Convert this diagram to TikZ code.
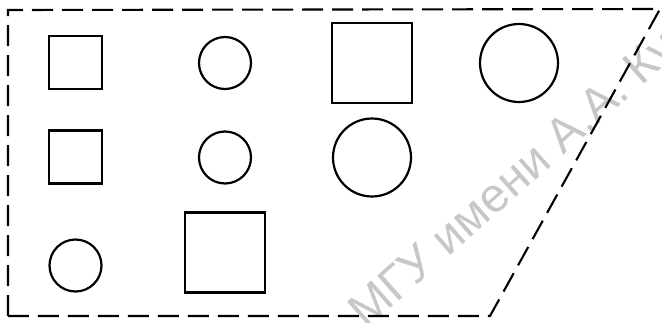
\documentclass[tikz,border=0pt]{standalone}
\usepackage{fontspec}
\newfontfamily\wmfont{Liberation Sans}
\begin{document}
\begin{tikzpicture}[x=1pt,y=-1pt,
  shp/.style={draw=black,line width=2.2pt,inner sep=0pt,outer sep=0pt},
  sq/.style={shp,rectangle,minimum size=#1},
  cr/.style={shp,circle,minimum size=#1},
  frame/.style={draw=black,line width=2.1pt,dash pattern=on 21pt off 9pt},
  wm/.style={text=black!22,font=\wmfont\fontsize{48}{48}\selectfont,anchor=base west,inner sep=0pt,rotate=41.5}]
\useasboundingbox (0,0) rectangle (662,322);
\clip (0,0) rectangle (662,322);
\node[wm] (wmark) at (366,330) {МГУ имени А.А. Ку};
\coordinate (tl) at (8,10);
\coordinate (tr) at (660,9);
\coordinate (br) at (490,316);
\coordinate (bl) at (8,316);
\draw[frame] (bl) -- (tl) -- (tr) -- (br) -- cycle;
% row 1
\node[sq=53pt] (s1) at (75.5,62.5) {};
\node[cr=52pt] (c1) at (225,63) {};
\node[sq=80pt] (s2) at (372,63) {};
\node[cr=78pt] (c2) at (519,63) {};
% row 2
\node[sq=53pt] (s3) at (75.5,157) {};
\node[cr=52pt] (c3) at (225,157.5) {};
\node[cr=78pt] (c4) at (372,157.5) {};
% row 3
\node[cr=52pt] (c5) at (75.5,265.5) {};
\node[sq=80pt] (s4) at (225,252.5) {};
\end{tikzpicture}
\end{document}
